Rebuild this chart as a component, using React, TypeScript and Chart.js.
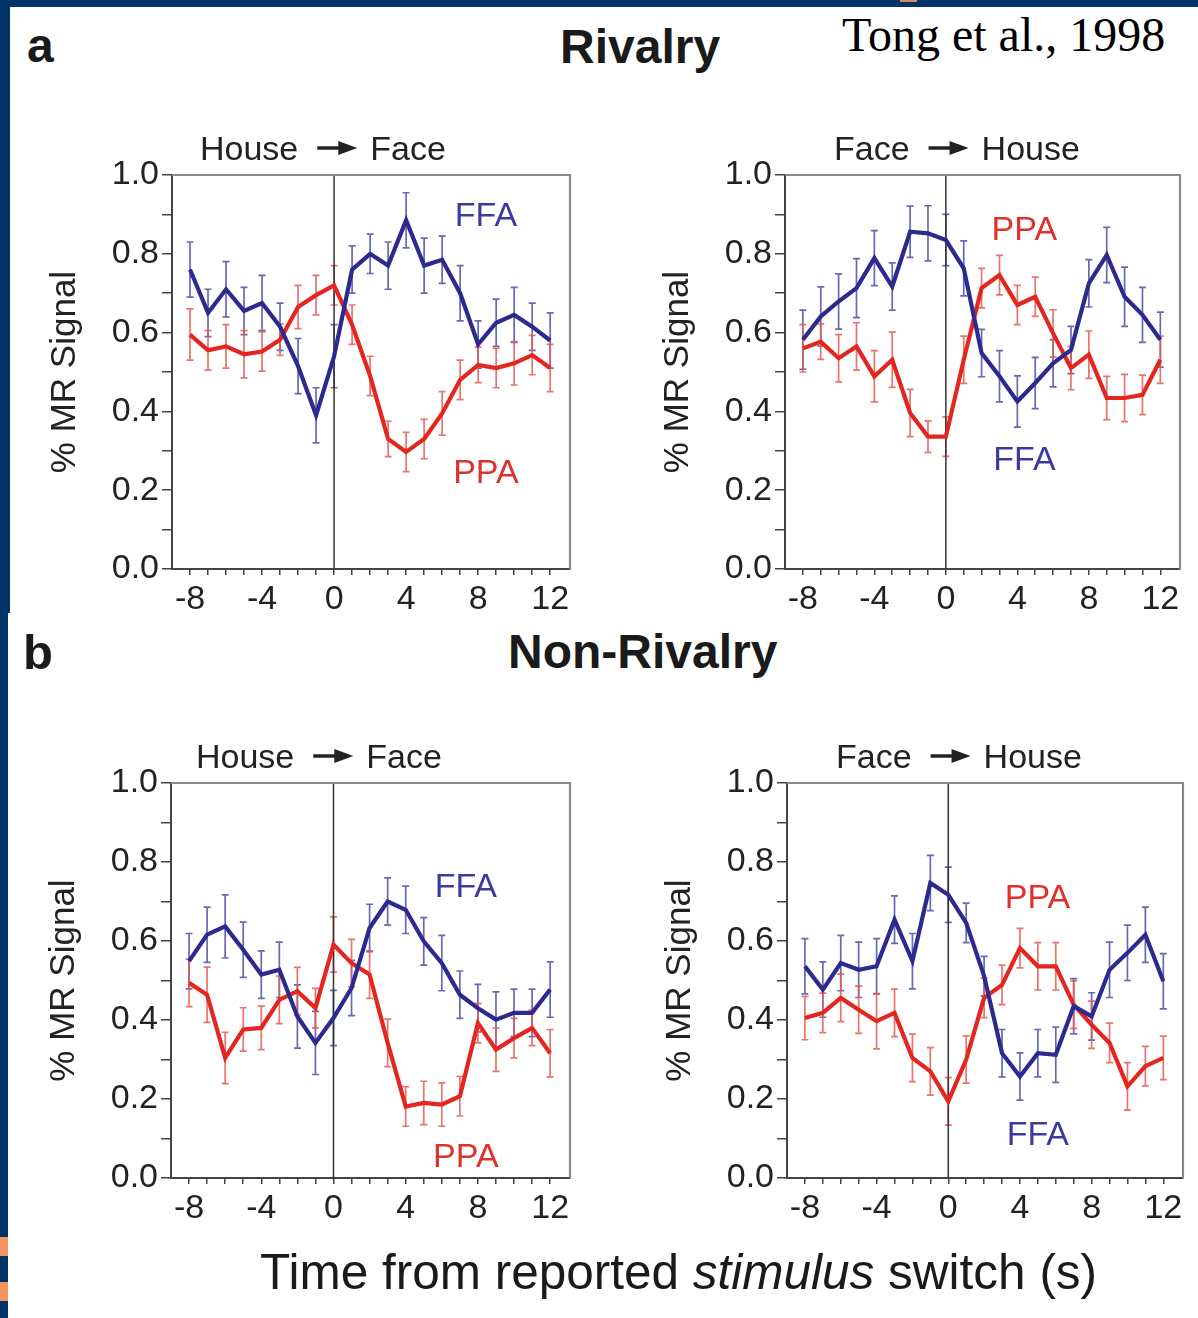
import React, { useEffect, useRef } from "react";
import { Chart, registerables } from "chart.js";

Chart.register(...registerables);

// ---------- data ----------
const TIME = [-8, -7, -6, -5, -4, -3, -2, -1, 0, 1, 2, 3, 4, 5, 6, 7, 8, 9, 10, 11, 12];
const X_TICK_LABELS = [-8, -4, 0, 4, 8, 12];
const Y_TICKS = [0, 0.1, 0.2, 0.3, 0.4, 0.5, 0.6, 0.7, 0.8, 0.9, 1.0];

// a: Rivalry, House -> Face
const A_HF_FFA = [0.76, 0.65, 0.71, 0.655, 0.675, 0.615, 0.515, 0.39, 0.54, 0.76, 0.8, 0.77, 0.885, 0.77, 0.785, 0.7, 0.57, 0.625, 0.645, 0.615, 0.58];
const A_HF_FFA_ERR = [0.07, 0.06, 0.07, 0.06, 0.07, 0.06, 0.07, 0.07, 0.08, 0.06, 0.05, 0.06, 0.07, 0.07, 0.06, 0.07, 0.06, 0.06, 0.07, 0.06, 0.07];
const A_HF_PPA = [0.595, 0.555, 0.565, 0.545, 0.552, 0.582, 0.665, 0.695, 0.72, 0.62, 0.49, 0.33, 0.297, 0.33, 0.395, 0.48, 0.518, 0.51, 0.522, 0.543, 0.51];
const A_HF_PPA_ERR = [0.065, 0.05, 0.055, 0.06, 0.05, 0.04, 0.055, 0.05, 0.05, 0.05, 0.05, 0.045, 0.05, 0.05, 0.055, 0.05, 0.045, 0.05, 0.055, 0.05, 0.06];

// a: Rivalry, Face -> House
const A_FH_FFA = [0.582, 0.641, 0.679, 0.713, 0.789, 0.717, 0.856, 0.852, 0.835, 0.763, 0.548, 0.489, 0.425, 0.472, 0.522, 0.556, 0.725, 0.797, 0.691, 0.645, 0.582];
const A_FH_FFA_ERR = [0.075, 0.075, 0.07, 0.075, 0.07, 0.06, 0.065, 0.07, 0.065, 0.07, 0.06, 0.065, 0.065, 0.065, 0.06, 0.06, 0.06, 0.07, 0.075, 0.07, 0.07];
const A_FH_PPA = [0.56, 0.577, 0.535, 0.565, 0.489, 0.531, 0.396, 0.336, 0.336, 0.531, 0.713, 0.746, 0.67, 0.691, 0.598, 0.51, 0.544, 0.434, 0.434, 0.442, 0.531];
const A_FH_PPA_ERR = [0.06, 0.045, 0.06, 0.06, 0.065, 0.07, 0.06, 0.04, 0.05, 0.06, 0.05, 0.05, 0.05, 0.05, 0.06, 0.055, 0.06, 0.055, 0.06, 0.05, 0.06];

// b: Non-Rivalry, House -> Face
const B_HF_FFA = [0.549, 0.616, 0.637, 0.578, 0.515, 0.527, 0.409, 0.342, 0.405, 0.481, 0.633, 0.7, 0.679, 0.599, 0.544, 0.464, 0.43, 0.401, 0.418, 0.418, 0.477];
const B_HF_FFA_ERR = [0.07, 0.07, 0.08, 0.07, 0.06, 0.07, 0.08, 0.08, 0.07, 0.07, 0.06, 0.06, 0.06, 0.06, 0.07, 0.06, 0.06, 0.07, 0.06, 0.06, 0.07];
const B_HF_PPA = [0.494, 0.464, 0.304, 0.376, 0.38, 0.451, 0.473, 0.43, 0.591, 0.544, 0.515, 0.342, 0.181, 0.19, 0.186, 0.207, 0.392, 0.325, 0.354, 0.38, 0.316];
const B_HF_PPA_ERR = [0.06, 0.07, 0.065, 0.055, 0.055, 0.06, 0.06, 0.05, 0.07, 0.06, 0.06, 0.06, 0.05, 0.055, 0.055, 0.05, 0.05, 0.055, 0.05, 0.045, 0.06];

// b: Non-Rivalry, Face -> House
const B_FH_FFA = [0.536, 0.477, 0.544, 0.527, 0.536, 0.654, 0.549, 0.747, 0.717, 0.646, 0.511, 0.316, 0.257, 0.316, 0.312, 0.435, 0.409, 0.527, 0.57, 0.616, 0.498];
const B_FH_FFA_ERR = [0.07, 0.07, 0.07, 0.07, 0.07, 0.06, 0.07, 0.07, 0.07, 0.05, 0.05, 0.06, 0.06, 0.06, 0.07, 0.07, 0.06, 0.07, 0.07, 0.07, 0.07];
const B_FH_PPA = [0.405, 0.418, 0.456, 0.426, 0.397, 0.418, 0.304, 0.27, 0.194, 0.3, 0.456, 0.489, 0.582, 0.536, 0.536, 0.439, 0.388, 0.342, 0.232, 0.283, 0.304];
const B_FH_PPA_ERR = [0.055, 0.05, 0.06, 0.06, 0.07, 0.06, 0.06, 0.06, 0.06, 0.06, 0.05, 0.05, 0.05, 0.06, 0.06, 0.06, 0.06, 0.05, 0.06, 0.05, 0.055];

// ---------- styles ----------
const BLUE = "#2c2a8e";
const RED = "#e3261f";
const BLUE_ERR = "rgba(78,78,168,0.85)";
const RED_ERR = "rgba(228,92,82,0.85)";
const BLUE_TXT = "#3b3a9e";
const RED_TXT = "#e0302a";
const INK = "#222";
const SANS = '"Liberation Sans", Arial, Helvetica, sans-serif';
const SERIF = '"Liberation Serif", "Times New Roman", serif';
const NAVY = "#003468";
const ORANGE = "#f7955e";

const Y_AXIS_W = 132;
const TOP_PAD = 60;
const RIGHT_PAD = 15;
const X_AXIS_H = 50;

type Label = { text: string; x: number; y: number; color: string };

type PanelProps = {
  plotL: number;
  plotT: number;
  plotR: number;
  plotB: number;
  ffa: number[];
  ffaErr: number[];
  ppa: number[];
  ppaErr: number[];
  from: string;
  to: string;
  headerX: number;
  labels: Label[];
};

function Panel(p: PanelProps) {
  const ref = useRef<HTMLCanvasElement>(null);
  const w = p.plotR - p.plotL + Y_AXIS_W + RIGHT_PAD;
  const h = p.plotB - p.plotT + TOP_PAD + X_AXIS_H;

  useEffect(() => {
    const canvas = ref.current;
    if (!canvas) return;

    const errorBars = {
      id: "errorBars",
      beforeDatasetsDraw(chart: any) {
        const ctx = chart.ctx;
        const ys = chart.scales.y;
        chart.data.datasets.forEach((ds: any, di: number) => {
          const meta = chart.getDatasetMeta(di);
          ctx.save();
          ctx.strokeStyle = ds.errColor;
          ctx.lineWidth = 1.7;
          meta.data.forEach((pt: any, i: number) => {
            const v = ds.data[i].y;
            const e = ds.errors[i];
            const x = pt.x;
            const y1 = ys.getPixelForValue(v + e);
            const y2 = ys.getPixelForValue(v - e);
            ctx.beginPath();
            ctx.moveTo(x, y1);
            ctx.lineTo(x, y2);
            ctx.moveTo(x - 3.5, y1);
            ctx.lineTo(x + 3.5, y1);
            ctx.moveTo(x - 3.5, y2);
            ctx.lineTo(x + 3.5, y2);
            ctx.stroke();
          });
          ctx.restore();
        });
      },
    };

    const frame = {
      id: "frame",
      beforeDatasetsDraw(chart: any) {
        const ctx = chart.ctx;
        const a = chart.chartArea;
        const x0 = chart.scales.x.getPixelForValue(0);
        ctx.save();
        ctx.strokeStyle = "#333";
        ctx.lineWidth = 1.5;
        ctx.beginPath();
        ctx.moveTo(x0, a.top);
        ctx.lineTo(x0, a.bottom);
        ctx.stroke();
        ctx.strokeStyle = "#8a8a8a";
        ctx.lineWidth = 2.2;
        ctx.beginPath();
        ctx.moveTo(a.left, a.top);
        ctx.lineTo(a.right, a.top);
        ctx.lineTo(a.right, a.bottom);
        ctx.stroke();
        ctx.restore();
      },
    };

    const annotations = {
      id: "annotations",
      afterDraw(chart: any) {
        const ctx = chart.ctx;
        const a = chart.chartArea;
        const xs = chart.scales.x;
        const ys = chart.scales.y;
        ctx.save();
        ctx.font = `34px ${SANS}`;
        ctx.textBaseline = "alphabetic";
        ctx.textAlign = "center";
        p.labels.forEach((lb) => {
          ctx.fillStyle = lb.color;
          ctx.fillText(lb.text, xs.getPixelForValue(lb.x), ys.getPixelForValue(lb.y) + 12);
        });
        // header: "from -> to"
        ctx.textAlign = "left";
        ctx.fillStyle = INK;
        const base = a.top - 15;
        let x = a.left + p.headerX - 2;
        ctx.fillText(p.from, x, base);
        x += ctx.measureText(p.from).width + 19;
        const cy = base - 12;
        ctx.strokeStyle = INK;
        ctx.lineWidth = 3.5;
        ctx.beginPath();
        ctx.moveTo(x, cy);
        ctx.lineTo(x + 24, cy);
        ctx.stroke();
        ctx.beginPath();
        ctx.moveTo(x + 21, cy - 7);
        ctx.lineTo(x + 40, cy);
        ctx.lineTo(x + 21, cy + 7);
        ctx.closePath();
        ctx.fill();
        x += 40 + 13;
        ctx.fillText(p.to, x, base);
        ctx.restore();
      },
    };

    const tickFont = { family: SANS, size: 34 };

    const chart = new Chart(canvas, {
      type: "line",
      data: {
        datasets: [
          {
            label: "FFA",
            data: TIME.map((t, i) => ({ x: t, y: p.ffa[i] })),
            borderColor: BLUE,
            borderWidth: 4.2,
            pointRadius: 0,
            tension: 0,
            errors: p.ffaErr,
            errColor: BLUE_ERR,
          } as any,
          {
            label: "PPA",
            data: TIME.map((t, i) => ({ x: t, y: p.ppa[i] })),
            borderColor: RED,
            borderWidth: 4.2,
            pointRadius: 0,
            tension: 0,
            errors: p.ppaErr,
            errColor: RED_ERR,
          } as any,
        ],
      },
      options: {
        animation: false,
        responsive: false,
        maintainAspectRatio: false,
        devicePixelRatio: 1,
        events: [],
        layout: { padding: { left: 0, top: TOP_PAD, right: RIGHT_PAD, bottom: 0 } },
        plugins: { legend: { display: false }, tooltip: { enabled: false }, title: { display: false } },
        scales: {
          x: {
            type: "linear",
            min: -9,
            max: 13.1,
            afterBuildTicks: (s: any) => {
              s.ticks = TIME.map((v) => ({ value: v }));
            },
            afterFit: (s: any) => {
              s.height = X_AXIS_H;
            },
            grid: { drawOnChartArea: false, drawTicks: true, tickLength: 6, color: "#444", lineWidth: 1.5 },
            border: { display: true, color: "#444", width: 2 },
            ticks: {
              autoSkip: false,
              maxRotation: 0,
              minRotation: 0,
              padding: 4,
              color: INK,
              font: tickFont,
              callback: (v: any) => (X_TICK_LABELS.includes(Number(v)) ? String(v) : ""),
            },
          },
          y: {
            type: "linear",
            min: 0,
            max: 1,
            afterBuildTicks: (s: any) => {
              s.ticks = Y_TICKS.map((v) => ({ value: v }));
            },
            afterFit: (s: any) => {
              s.width = Y_AXIS_W;
            },
            grid: { drawOnChartArea: false, drawTicks: true, tickLength: 10, color: "#444", lineWidth: 1.5 },
            border: { display: true, color: "#444", width: 2 },
            ticks: {
              autoSkip: false,
              padding: 3,
              color: INK,
              font: tickFont,
              callback: (v: any) => (Math.round(Number(v) * 10) % 2 === 0 ? Number(v).toFixed(1) : ""),
            },
            title: {
              display: true,
              text: "% MR Signal",
              color: INK,
              font: { family: SANS, size: 35 },
              padding: { top: 4, bottom: 0 },
            },
          },
        },
      } as any,
      plugins: [errorBars, frame, annotations],
    });
    return () => chart.destroy();
  }, []);

  return (
    <canvas
      ref={ref}
      width={w}
      height={h}
      style={{ position: "absolute", left: p.plotL - Y_AXIS_W, top: p.plotT - TOP_PAD, width: w, height: h }}
    />
  );
}

function Txt(props: {
  x: number;
  base: number;
  size: number;
  serif?: boolean;
  bold?: boolean;
  children: React.ReactNode;
}) {
  const asc = props.serif ? 0.8375 : 0.8465;
  return (
    <div
      style={{
        position: "absolute",
        left: props.x,
        top: props.base - asc * props.size,
        fontSize: props.size,
        lineHeight: `${props.size}px`,
        fontFamily: props.serif ? SERIF : SANS,
        fontWeight: props.bold ? 700 : 400,
        color: props.serif ? "#000" : "#1a1a1a",
        whiteSpace: "nowrap",
        zIndex: 2,
      }}
    >
      {props.children}
    </div>
  );
}

export default function App() {
  return (
    <div
      style={{
        position: "absolute",
        left: 0,
        top: 0,
        width: 1198,
        height: 1318,
        overflow: "hidden",
        background: NAVY,
      }}
    >
      {/* white slide areas */}
      <div style={{ position: "absolute", left: 10, top: 7, width: 1188, height: 606, background: "#fff" }} />
      <div style={{ position: "absolute", left: 8, top: 613, width: 1190, height: 705, background: "#fff" }} />
      <div style={{ position: "absolute", left: 0, top: 1237, width: 8, height: 19, background: ORANGE }} />
      <div style={{ position: "absolute", left: 0, top: 1282, width: 8, height: 19, background: ORANGE }} />
      <div style={{ position: "absolute", left: 900, top: 0, width: 17, height: 2, background: "#d98a5a" }} />

      <Txt x={27} base={63} size={48} bold>a</Txt>
      <Txt x={560} base={64} size={48} bold>Rivalry</Txt>
      <Txt x={842} base={51} size={48} serif>Tong et al., 1998</Txt>
      <Txt x={23} base={669} size={49} bold>b</Txt>
      <Txt x={508} base={669} size={48} bold>Non-Rivalry</Txt>
      <Txt x={260} base={1289} size={49.5}>
        Time from reported <i>stimulus</i> switch (s)
      </Txt>

      <Panel
        plotL={172}
        plotT={175}
        plotR={570}
        plotB={569}
        ffa={A_HF_FFA}
        ffaErr={A_HF_FFA_ERR}
        ppa={A_HF_PPA}
        ppaErr={A_HF_PPA_ERR}
        from="House"
        to="Face"
        headerX={30}
        labels={[
          { text: "FFA", x: 8.43, y: 0.9, color: BLUE_TXT },
          { text: "PPA", x: 8.43, y: 0.249, color: RED_TXT },
        ]}
      />
      <Panel
        plotL={785}
        plotT={175}
        plotR={1180}
        plotB={569}
        ffa={A_FH_FFA}
        ffaErr={A_FH_FFA_ERR}
        ppa={A_FH_PPA}
        ppaErr={A_FH_PPA_ERR}
        from="Face"
        to="House"
        headerX={51}
        labels={[
          { text: "PPA", x: 4.39, y: 0.865, color: RED_TXT },
          { text: "FFA", x: 4.4, y: 0.282, color: BLUE_TXT },
        ]}
      />
      <Panel
        plotL={171}
        plotT={783}
        plotR={570}
        plotB={1178}
        ffa={B_HF_FFA}
        ffaErr={B_HF_FFA_ERR}
        ppa={B_HF_PPA}
        ppaErr={B_HF_PPA_ERR}
        from="House"
        to="Face"
        headerX={27}
        labels={[
          { text: "FFA", x: 7.33, y: 0.743, color: BLUE_TXT },
          { text: "PPA", x: 7.33, y: 0.059, color: RED_TXT },
        ]}
      />
      <Panel
        plotL={787}
        plotT={783}
        plotR={1183}
        plotB={1178}
        ffa={B_FH_FFA}
        ffaErr={B_FH_FFA_ERR}
        ppa={B_FH_PPA}
        ppaErr={B_FH_PPA_ERR}
        from="Face"
        to="House"
        headerX={51}
        labels={[
          { text: "PPA", x: 4.98, y: 0.715, color: RED_TXT },
          { text: "FFA", x: 5.0, y: 0.115, color: BLUE_TXT },
        ]}
      />
    </div>
  );
}
